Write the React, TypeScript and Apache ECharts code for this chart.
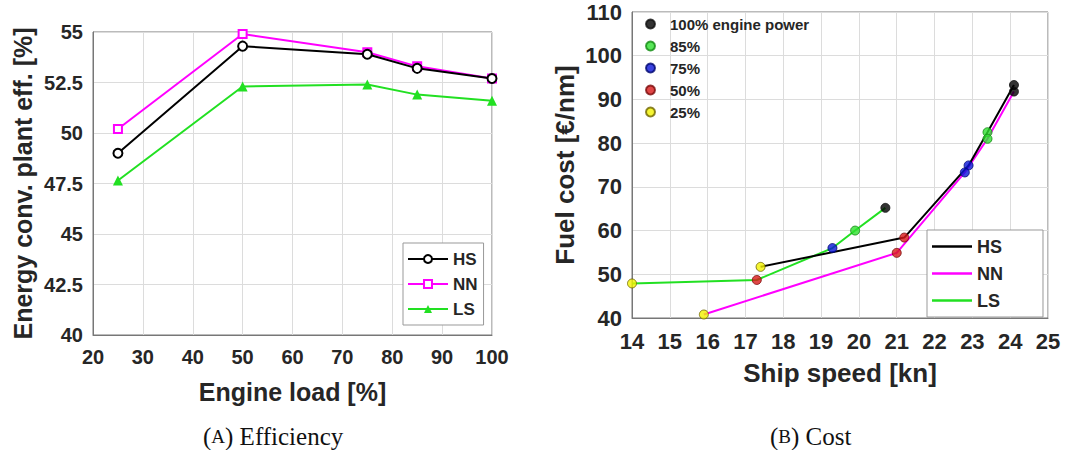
import React, { useEffect, useRef } from "react";
import * as echarts from "echarts";

// ---- (A) Efficiency data ----
const engineLoad = [25, 50, 75, 85, 100];
const effHS = [49.0, 54.3, 53.9, 53.2, 52.7];
const effNN = [50.2, 54.9, 54.0, 53.3, 52.7];
const effLS = [47.65, 52.3, 52.4, 51.9, 51.6];

// ---- (B) Cost data (ordered 100%, 85%, 75%, 50%, 25% engine power) ----
const powerLevels = ["100% engine power", "85%", "75%", "50%", "25%"];
const speedHS = [24.1, 23.4, 22.9, 21.2, 17.4];
const costHS = [93.3, 82.5, 74.9, 58.4, 51.7];
const speedNN = [24.1, 23.4, 22.8, 21.0, 15.9];
const costNN = [91.8, 81.0, 73.3, 54.9, 40.8];
const speedLS = [20.7, 19.9, 19.3, 17.3, 14.0];
const costLS = [65.2, 60.0, 56.0, 48.7, 47.9];

const FF = "Liberation Sans, Arial, sans-serif";
const TXT = "#262626";
const AX = "#777777";
const GRID = "#dcdcdc";

const powerColors = ["#000000", "#2ee02e", "#0a14d8", "#d81818", "#f2f200"];
const powerBorders = ["#111111", "#138a13", "#00086e", "#7a0c0c", "#6e6400"];

export default function App() {
  const ref = useRef<HTMLDivElement>(null);

  useEffect(() => {
    document.body.style.margin = "0";
    const chart = echarts.init(ref.current!, null, { renderer: "svg" });

    const axisLabel = (size: number) => ({
      fontSize: size,
      fontWeight: "bold" as const,
      color: TXT,
      fontFamily: FF,
    });

    const pairs = (xs: number[], ys: number[]) => xs.map((x, i) => [x, ys[i]]);

    const scatterSeries = powerLevels.map((lvl, i) => ({
      name: lvl,
      type: "scatter",
      xAxisIndex: 1,
      yAxisIndex: 1,
      z: 5,
      symbol: "circle",
      symbolSize: 9,
      itemStyle: { color: powerColors[i], borderColor: powerBorders[i], borderWidth: 1 },
      data: [
        [speedHS[i], costHS[i]],
        [speedNN[i], costNN[i]],
        [speedLS[i], costLS[i]],
      ],
    }));

    const option: any = {
      animation: false,
      backgroundColor: "#ffffff",
      grid: [
        { left: 93, top: 32, width: 399, height: 303, show: true, borderColor: AX, borderWidth: 1, backgroundColor: "#fff" },
        { left: 632, top: 12, width: 416, height: 306, show: true, borderColor: AX, borderWidth: 1, backgroundColor: "#fff" },
      ],
      xAxis: [
        {
          gridIndex: 0,
          type: "value",
          min: 20,
          max: 100,
          interval: 10,
          name: "Engine load [%]",
          nameLocation: "middle",
          nameGap: 44,
          nameTextStyle: axisLabel(25),
          axisLabel: { ...axisLabel(20), margin: 12 },
          axisLine: { show: true, lineStyle: { color: AX } },
          axisTick: { show: false },
          splitLine: { show: true, lineStyle: { color: GRID } },
        },
        {
          gridIndex: 1,
          type: "value",
          min: 14,
          max: 25,
          interval: 1,
          name: "Ship speed [kn]",
          nameLocation: "middle",
          nameGap: 42,
          nameTextStyle: axisLabel(26),
          axisLabel: { ...axisLabel(22), margin: 12 },
          axisLine: { show: true, lineStyle: { color: AX } },
          axisTick: { show: false },
          splitLine: { show: true, lineStyle: { color: GRID } },
        },
      ],
      yAxis: [
        {
          gridIndex: 0,
          type: "value",
          min: 40,
          max: 55,
          interval: 2.5,
          name: "Energy conv. plant eff. [%]",
          nameLocation: "middle",
          nameGap: 58,
          nameTextStyle: axisLabel(25),
          axisLabel: { ...axisLabel(20), margin: 10 },
          axisLine: { show: true, lineStyle: { color: AX } },
          axisTick: { show: false },
          splitLine: { show: true, lineStyle: { color: GRID } },
        },
        {
          gridIndex: 1,
          type: "value",
          min: 40,
          max: 110,
          interval: 10,
          name: "Fuel cost [€/nm]",
          nameLocation: "middle",
          nameGap: 54,
          nameTextStyle: axisLabel(26),
          axisLabel: { ...axisLabel(22), margin: 10 },
          axisLine: { show: true, lineStyle: { color: AX } },
          axisTick: { show: false },
          splitLine: { show: true, lineStyle: { color: GRID } },
        },
      ],
      legend: [
        {
          data: ["HS", "NN", "LS"],
          orient: "vertical",
          left: 403,
          top: 243,
          padding: [6, 6, 6, 4],
          itemGap: 5,
          itemWidth: 40,
          itemHeight: 10,
          backgroundColor: "#ffffff",
          borderColor: "#999999",
          borderWidth: 1,
          selectedMode: false,
          textStyle: { fontSize: 17, fontWeight: "bold", color: TXT, fontFamily: FF, lineHeight: 20 },
        },
        {
          data: ["HS-cost", "NN-cost", "LS-cost"],
          formatter: (name: string) => name.replace("-cost", ""),
          orient: "vertical",
          left: 927,
          top: 230,
          padding: [6, 40, 6, 5],
          itemGap: 6,
          itemWidth: 40,
          itemHeight: 2.5,
          icon: "rect",
          backgroundColor: "#ffffff",
          borderColor: "#999999",
          borderWidth: 1,
          selectedMode: false,
          textStyle: { fontSize: 18, fontWeight: "bold", color: TXT, fontFamily: FF, lineHeight: 21 },
        },
        {
          data: powerLevels,
          orient: "vertical",
          left: 645,
          top: 15,
          padding: 0,
          itemGap: 4,
          itemWidth: 9,
          itemHeight: 9,
          icon: "circle",
          selectedMode: false,
          textStyle: {
            fontSize: 15,
            fontWeight: "bold",
            color: TXT,
            fontFamily: FF,
            lineHeight: 18,
            padding: [0, 0, 0, 10],
          },
        },
      ],
      series: [
        {
          name: "HS",
          type: "line",
          xAxisIndex: 0,
          yAxisIndex: 0,
          data: pairs(engineLoad, effHS),
          symbol: "emptyCircle",
          symbolSize: 9,
          lineStyle: { color: "#000000", width: 2 },
          itemStyle: { color: "#000000", borderWidth: 1.5 },
          z: 3,
        },
        {
          name: "NN",
          type: "line",
          xAxisIndex: 0,
          yAxisIndex: 0,
          data: pairs(engineLoad, effNN),
          symbol: "emptyRect",
          symbolSize: 8,
          lineStyle: { color: "#ff00ff", width: 2 },
          itemStyle: { color: "#ff00ff", borderWidth: 1.5 },
          z: 2,
        },
        {
          name: "LS",
          type: "line",
          xAxisIndex: 0,
          yAxisIndex: 0,
          data: pairs(engineLoad, effLS),
          symbol: "triangle",
          symbolSize: 10,
          lineStyle: { color: "#22e022", width: 2 },
          itemStyle: { color: "#22e022" },
          z: 2,
        },
        {
          name: "HS-cost",
          type: "line",
          xAxisIndex: 1,
          yAxisIndex: 1,
          data: pairs(speedHS, costHS),
          symbol: "none",
          lineStyle: { color: "#000000", width: 2 },
          itemStyle: { color: "#000000" },
          z: 3,
        },
        {
          name: "NN-cost",
          type: "line",
          xAxisIndex: 1,
          yAxisIndex: 1,
          data: pairs(speedNN, costNN),
          symbol: "none",
          lineStyle: { color: "#ff00ff", width: 2 },
          itemStyle: { color: "#ff00ff" },
          z: 2,
        },
        {
          name: "LS-cost",
          type: "line",
          xAxisIndex: 1,
          yAxisIndex: 1,
          data: pairs(speedLS, costLS),
          symbol: "none",
          lineStyle: { color: "#22e022", width: 2 },
          itemStyle: { color: "#22e022" },
          z: 2,
        },
        ...scatterSeries,
      ],
      graphic: [
        {
          type: "text",
          x: 203,
          y: 436,
          style: {
            text: "({sc|A}) Efficiency",
            rich: { sc: { fontSize: 19, fontFamily: "Liberation Serif, serif", fill: "#111" } },
            fontSize: 25,
            fontFamily: "Liberation Serif, serif",
            fill: "#111111",
            verticalAlign: "middle",
          },
        },
        {
          type: "text",
          x: 770,
          y: 436,
          style: {
            text: "({sc|B}) Cost",
            rich: { sc: { fontSize: 19, fontFamily: "Liberation Serif, serif", fill: "#111" } },
            fontSize: 25,
            fontFamily: "Liberation Serif, serif",
            fill: "#111111",
            verticalAlign: "middle",
          },
        },
      ],
    };

    chart.setOption(option);
    return () => chart.dispose();
  }, []);

  return <div ref={ref} style={{ width: 1065, height: 450 }} />;
}
